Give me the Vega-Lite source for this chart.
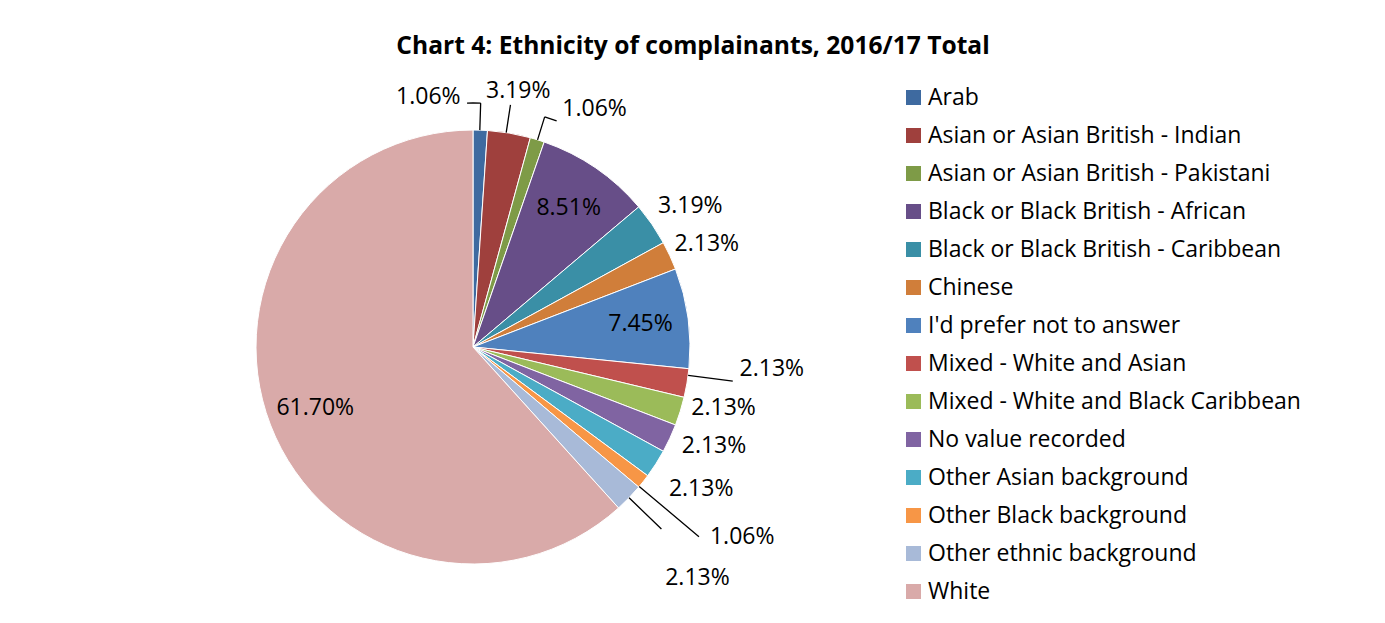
{
  "$schema": "https://vega.github.io/schema/vega-lite/v6.json",
  "width": 486,
  "height": 494,
  "autosize": {"type": "none"},
  "padding": {"left": 230, "top": 100, "right": 669, "bottom": 29},
  "background": "white",
  "config": {
    "view": {"stroke": null},
    "font": "Open Sans",
    "title": {"font": "Open Sans", "fontSize": 24.6, "fontWeight": "bold", "color": "#000000", "anchor": "middle", "dx": 220, "dy": 88, "offset": 22},
    "legend": {"labelFont": "Open Sans", "labelFontSize": 23, "labelColor": "#000000", "symbolType": "square", "symbolSize": 225, "symbolStrokeWidth": 0, "labelOffset": 3, "rowPadding": 14, "padding": 0, "labelLimit": 500}
  },
  "title": "Chart 4: Ethnicity of complainants, 2016/17 Total",
  "data": {
    "values": [
      {"i": 1, "e": "Arab", "n": 1, "label": "1.06%"},
      {"i": 2, "e": "Asian or Asian British - Indian", "n": 3, "label": "3.19%"},
      {"i": 3, "e": "Asian or Asian British - Pakistani", "n": 1, "label": "1.06%"},
      {"i": 4, "e": "Black or Black British - African", "n": 8, "label": "8.51%"},
      {"i": 5, "e": "Black or Black British - Caribbean", "n": 3, "label": "3.19%"},
      {"i": 6, "e": "Chinese", "n": 2, "label": "2.13%"},
      {"i": 7, "e": "I'd prefer not to answer", "n": 7, "label": "7.45%"},
      {"i": 8, "e": "Mixed - White and Asian", "n": 2, "label": "2.13%"},
      {"i": 9, "e": "Mixed - White and Black Caribbean", "n": 2, "label": "2.13%"},
      {"i": 10, "e": "No value recorded", "n": 2, "label": "2.13%"},
      {"i": 11, "e": "Other Asian background", "n": 2, "label": "2.13%"},
      {"i": 12, "e": "Other Black background", "n": 1, "label": "1.06%"},
      {"i": 13, "e": "Other ethnic background", "n": 2, "label": "2.13%"},
      {"i": 14, "e": "White", "n": 58, "label": "61.70%"}
    ]
  },
  "encoding": {
    "theta": {"field": "n", "type": "quantitative", "stack": true},
    "order": {"field": "i", "type": "quantitative"}
  },
  "layer": [
    {
      "mark": {"type": "arc", "outerRadius": 217, "stroke": "#ffffff", "strokeWidth": 1},
      "encoding": {
        "color": {
          "field": "e", "type": "nominal", "title": null,
          "scale": {
            "domain": ["Arab", "Asian or Asian British - Indian", "Asian or Asian British - Pakistani", "Black or Black British - African", "Black or Black British - Caribbean", "Chinese", "I'd prefer not to answer", "Mixed - White and Asian", "Mixed - White and Black Caribbean", "No value recorded", "Other Asian background", "Other Black background", "Other ethnic background", "White"],
            "range": ["#3E6AA0", "#9F403D", "#7E9B47", "#674E88", "#3A8FA6", "#D07E3A", "#4F81BD", "#C0504D", "#9BBB59", "#8064A2", "#4BACC6", "#F79646", "#A8BAD8", "#D9AAA9"]
          },
          "legend": {"orient": "none", "legendX": 672, "legendY": -14}
        }
      }
    },
    {
      "transform": [{"stack": "n", "groupby": [], "sort": [{"field": "i", "order": "ascending"}], "as": ["s0", "s1"]}, {"filter": "datum.i == 1"}],
      "mark": {"type": "arc", "filled": false, "stroke": "#000000", "strokeWidth": 1.3, "radius": 244, "radius2": 217, "thetaOffset": 0.0314, "theta2Offset": 0.0314},
      "encoding": {"theta": {"field": "s0", "type": "quantitative", "stack": null}, "theta2": {"field": "s0"}}
    },
    {
      "transform": [{"stack": "n", "groupby": [], "sort": [{"field": "i", "order": "ascending"}], "as": ["s0", "s1"]}, {"filter": "datum.i == 1"}],
      "mark": {"type": "arc", "filled": false, "stroke": "#000000", "strokeWidth": 1.3, "radius": 244, "radius2": 244, "thetaOffset": -0.0244, "theta2Offset": 0.0314},
      "encoding": {"theta": {"field": "s0", "type": "quantitative", "stack": null}, "theta2": {"field": "s0"}}
    },
    {
      "transform": [{"stack": "n", "groupby": [], "sort": [{"field": "i", "order": "ascending"}], "as": ["s0", "s1"]}, {"filter": "datum.i == 2"}],
      "mark": {"type": "arc", "filled": false, "stroke": "#000000", "strokeWidth": 1.3, "radius": 245, "radius2": 217, "thetaOffset": 0.0867, "theta2Offset": 0.0867},
      "encoding": {"theta": {"field": "s0", "type": "quantitative", "stack": null}, "theta2": {"field": "s0"}}
    },
    {
      "transform": [{"stack": "n", "groupby": [], "sort": [{"field": "i", "order": "ascending"}], "as": ["s0", "s1"]}, {"filter": "datum.i == 3"}],
      "mark": {"type": "arc", "filled": false, "stroke": "#000000", "strokeWidth": 1.3, "radius": 241, "radius2": 217, "thetaOffset": 0.0346, "theta2Offset": 0.0346},
      "encoding": {"theta": {"field": "s0", "type": "quantitative", "stack": null}, "theta2": {"field": "s0"}}
    },
    {
      "transform": [{"stack": "n", "groupby": [], "sort": [{"field": "i", "order": "ascending"}], "as": ["s0", "s1"]}, {"filter": "datum.i == 3"}],
      "mark": {"type": "arc", "filled": false, "stroke": "#000000", "strokeWidth": 1.3, "radius": 241, "radius2": 241, "thetaOffset": 0.0346, "theta2Offset": 0.0869},
      "encoding": {"theta": {"field": "s0", "type": "quantitative", "stack": null}, "theta2": {"field": "s0"}}
    },
    {
      "transform": [{"stack": "n", "groupby": [], "sort": [{"field": "i", "order": "ascending"}], "as": ["s0", "s1"]}, {"filter": "datum.i == 8"}],
      "mark": {"type": "arc", "filled": false, "stroke": "#000000", "strokeWidth": 1.3, "radius": 262, "radius2": 217, "thetaOffset": 0.0307, "theta2Offset": 0.0307},
      "encoding": {"theta": {"field": "s0", "type": "quantitative", "stack": null}, "theta2": {"field": "s0"}}
    },
    {
      "transform": [{"stack": "n", "groupby": [], "sort": [{"field": "i", "order": "ascending"}], "as": ["s0", "s1"]}, {"filter": "datum.i == 12"}],
      "mark": {"type": "arc", "filled": false, "stroke": "#000000", "strokeWidth": 1.3, "radius": 295, "radius2": 217, "thetaOffset": 0.0632, "theta2Offset": 0.0632},
      "encoding": {"theta": {"field": "s0", "type": "quantitative", "stack": null}, "theta2": {"field": "s0"}}
    },
    {
      "transform": [{"stack": "n", "groupby": [], "sort": [{"field": "i", "order": "ascending"}], "as": ["s0", "s1"]}, {"filter": "datum.i == 13"}],
      "mark": {"type": "arc", "filled": false, "stroke": "#000000", "strokeWidth": 1.3, "radius": 262, "radius2": 217, "thetaOffset": 0.0663, "theta2Offset": 0.0663},
      "encoding": {"theta": {"field": "s0", "type": "quantitative", "stack": null}, "theta2": {"field": "s0"}}
    },
    {
      "mark": {"type": "text", "radius": 169, "fontSize": 23, "font": "Open Sans", "color": "#000000", "align": "center", "baseline": "middle"},
      "encoding": {"detail": {"field": "e"}, "text": {"condition": {"test": "datum.i == 4 || datum.i == 7 || datum.i == 14", "field": "label"}, "value": ""}}
    },
    {
      "mark": {"type": "text", "radius": 260, "dx": 2, "dy": 0, "fontSize": 23, "font": "Open Sans", "color": "#000000", "align": "center", "baseline": "middle"},
      "encoding": {"detail": {"field": "e"}, "text": {"condition": {"test": "datum.i == 2", "field": "label"}, "value": ""}}
    },
    {
      "mark": {"type": "text", "radius": 260, "dx": 3, "dy": 6, "fontSize": 23, "font": "Open Sans", "color": "#000000", "align": "center", "baseline": "middle"},
      "encoding": {"detail": {"field": "e"}, "text": {"condition": {"test": "datum.i == 5", "field": "label"}, "value": ""}}
    },
    {
      "mark": {"type": "text", "radius": 260, "dx": -2, "dy": 6, "fontSize": 23, "font": "Open Sans", "color": "#000000", "align": "center", "baseline": "middle"},
      "encoding": {"detail": {"field": "e"}, "text": {"condition": {"test": "datum.i == 6", "field": "label"}, "value": ""}}
    },
    {
      "mark": {"type": "text", "radius": 260, "dx": 9, "dy": 2, "fontSize": 23, "font": "Open Sans", "color": "#000000", "align": "center", "baseline": "middle"},
      "encoding": {"detail": {"field": "e"}, "text": {"condition": {"test": "datum.i == 11", "field": "label"}, "value": ""}}
    },
    {
      "mark": {"type": "text", "radius": 255, "dx": 7, "dy": -15, "fontSize": 23, "font": "Open Sans", "color": "#000000", "align": "center", "baseline": "middle"},
      "encoding": {"detail": {"field": "e"}, "text": {"condition": {"test": "datum.i == 9", "field": "label"}, "value": ""}}
    },
    {
      "mark": {"type": "text", "radius": 258, "dx": 7, "dy": -10, "fontSize": 23, "font": "Open Sans", "color": "#000000", "align": "center", "baseline": "middle"},
      "encoding": {"detail": {"field": "e"}, "text": {"condition": {"test": "datum.i == 10", "field": "label"}, "value": ""}}
    },
    {
      "mark": {"type": "text", "radius": 300, "dx": 3, "dy": -28, "fontSize": 23, "font": "Open Sans", "color": "#000000", "align": "center", "baseline": "middle"},
      "encoding": {"detail": {"field": "e"}, "text": {"condition": {"test": "datum.i == 8", "field": "label"}, "value": ""}}
    },
    {
      "mark": {"type": "text", "radius": 250, "dx": -53, "dy": 0, "fontSize": 23, "font": "Open Sans", "color": "#000000", "align": "center", "baseline": "middle"},
      "encoding": {"detail": {"field": "e"}, "text": {"condition": {"test": "datum.i == 1", "field": "label"}, "value": ""}}
    },
    {
      "mark": {"type": "text", "radius": 262, "dx": 44, "dy": 12, "fontSize": 23, "font": "Open Sans", "color": "#000000", "align": "center", "baseline": "middle"},
      "encoding": {"detail": {"field": "e"}, "text": {"condition": {"test": "datum.i == 3", "field": "label"}, "value": ""}}
    },
    {
      "mark": {"type": "text", "radius": 329, "dx": 11, "dy": -14, "fontSize": 23, "font": "Open Sans", "color": "#000000", "align": "center", "baseline": "middle"},
      "encoding": {"detail": {"field": "e"}, "text": {"condition": {"test": "datum.i == 12", "field": "label"}, "value": ""}}
    },
    {
      "mark": {"type": "text", "radius": 322, "dx": -7, "dy": 7, "fontSize": 23, "font": "Open Sans", "color": "#000000", "align": "center", "baseline": "middle"},
      "encoding": {"detail": {"field": "e"}, "text": {"condition": {"test": "datum.i == 13", "field": "label"}, "value": ""}}
    }
  ]
}
